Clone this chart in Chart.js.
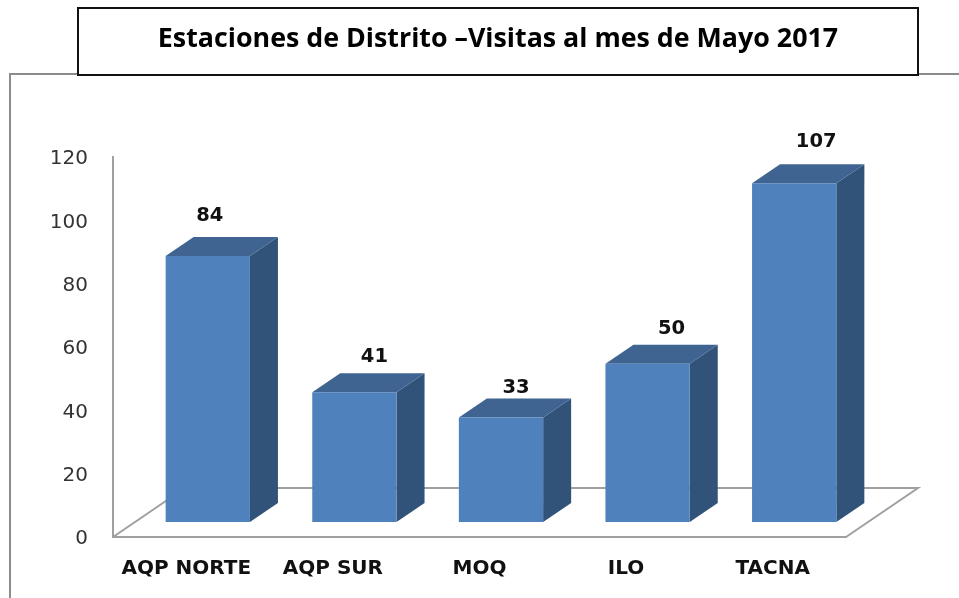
<!DOCTYPE html>
<html>
<head>
<meta charset="utf-8">
<style>
html,body{margin:0;padding:0;background:#fff;overflow:hidden}
#wrap{position:relative;width:959px;height:598px}
</style>
<script src="https://cdn.jsdelivr.net/npm/chart.js@4"></script>
</head>
<body>
<div id="wrap"><canvas id="c" width="959" height="598"></canvas></div>
<script>
const chartTitle = "Estaciones de Distrito \u2013Visitas al mes de Mayo 2017";
const categories = ["AQP NORTE", "AQP SUR", "MOQ", "ILO", "TACNA"];
const visitas = [84, 41, 33, 50, 107];
const yTicks = [0, 20, 40, 60, 80, 100, 120];

const labelShiftX = [2, 20, 15, 24, 22];
const labelShiftY = [40, 35, 30, 35, 41];

const BAR_SHIFT = {x: 21.5, y: -15};
const DEPTH = {x: 28, y: -19};
const FLOOR = {x: 72, y: -49};
const COLORS = {front: "#4F81BD", side: "#325379", top: "#3F6491", floor: "#A0A0A0", frame: "#8C8C8C"};

const bar3d = {
  id: "bar3d",
  beforeDraw(chart) {
    const ctx = chart.ctx;
    ctx.save();
    ctx.fillStyle = "#fff";
    ctx.fillRect(0, 0, chart.width, chart.height);
    ctx.strokeStyle = COLORS.frame;
    ctx.lineWidth = 2;
    ctx.beginPath();
    ctx.moveTo(10, chart.height);
    ctx.lineTo(10, 74);
    ctx.lineTo(chart.width, 74);
    ctx.stroke();
    ctx.restore();
  },
  beforeDatasetsDraw(chart) {
    const ctx = chart.ctx, a = chart.chartArea;
    ctx.save();
    ctx.strokeStyle = COLORS.floor;
    ctx.lineWidth = 2;
    ctx.beginPath();
    ctx.moveTo(a.left, a.bottom);
    ctx.lineTo(a.left + FLOOR.x, a.bottom + FLOOR.y);
    ctx.lineTo(a.right + FLOOR.x, a.bottom + FLOOR.y);
    ctx.lineTo(a.right, a.bottom);
    ctx.stroke();
    chart.getDatasetMeta(0).data.forEach(b => {
      const p = b.getProps(["x", "y", "base", "width"], true);
      const l = p.x - p.width / 2 + BAR_SHIFT.x, r = p.x + p.width / 2 + BAR_SHIFT.x;
      const t = p.y + BAR_SHIFT.y, bt = p.base + BAR_SHIFT.y;
      ctx.fillStyle = COLORS.side;
      ctx.beginPath();
      ctx.moveTo(r, t);
      ctx.lineTo(r + DEPTH.x, t + DEPTH.y);
      ctx.lineTo(r + DEPTH.x, bt + DEPTH.y);
      ctx.lineTo(r, bt);
      ctx.closePath();
      ctx.fill();
      ctx.fillStyle = COLORS.top;
      ctx.beginPath();
      ctx.moveTo(l, t);
      ctx.lineTo(l + DEPTH.x, t + DEPTH.y);
      ctx.lineTo(r + DEPTH.x, t + DEPTH.y);
      ctx.lineTo(r, t);
      ctx.closePath();
      ctx.fill();
    });
    ctx.restore();
  },
  beforeDatasetDraw(chart) {
    chart.ctx.save();
    chart.ctx.translate(BAR_SHIFT.x, BAR_SHIFT.y);
  },
  afterDatasetDraw(chart) {
    chart.ctx.restore();
  },
  afterDraw(chart) {
    const ctx = chart.ctx;
    ctx.save();
    ctx.fillStyle = "#fff";
    ctx.strokeStyle = "#111";
    ctx.lineWidth = 2;
    ctx.fillRect(78, 8, 840, 67);
    ctx.strokeRect(78, 8, 840, 67);
    ctx.fillStyle = "#000";
    ctx.textAlign = "center";
    ctx.textBaseline = "middle";
    ctx.font = "bold 26.8px 'Open Sans'";
    ctx.fillText(chartTitle, 498, 39);
    ctx.font = "bold 19.5px 'DejaVu Sans'";
    ctx.fillStyle = "#111";
    chart.getDatasetMeta(0).data.forEach((b, i) => {
      const p = b.getProps(["x", "y"], true);
      ctx.fillText(String(visitas[i]), p.x + BAR_SHIFT.x + labelShiftX[i], p.y + BAR_SHIFT.y - labelShiftY[i]);
    });
    ctx.restore();
  }
};

new Chart(document.getElementById("c"), {
  type: "bar",
  plugins: [bar3d],
  data: {
    labels: categories,
    datasets: [{
      data: visitas,
      backgroundColor: COLORS.front,
      borderWidth: 0,
      barPercentage: 0.575,
      categoryPercentage: 1,
      clip: false
    }]
  },
  options: {
    responsive: false,
    animation: false,
    layout: {padding: {left: 0, right: 113, top: 157, bottom: 0}},
    plugins: {legend: {display: false}, tooltip: {enabled: false}, title: {display: false}},
    scales: {
      x: {
        afterFit(s) { s.height = 61; },
        grid: {display: false, drawTicks: false},
        border: {display: true, color: COLORS.floor, width: 2},
        ticks: {color: "#111", padding: 20, maxRotation: 0, font: {family: "'DejaVu Sans'", weight: "bold", size: 20}}
      },
      y: {
        min: 0,
        max: 120,
        afterFit(s) { s.width = 113; },
        afterBuildTicks(s) { s.ticks = yTicks.map(v => ({value: v})); },
        grid: {display: false, drawTicks: false},
        border: {display: true, color: COLORS.floor, width: 2},
        ticks: {color: "#333", padding: 25, labelOffset: 2, font: {family: "'DejaVu Sans'", size: 20}}
      }
    }
  }
});
</script>
</body>
</html>
